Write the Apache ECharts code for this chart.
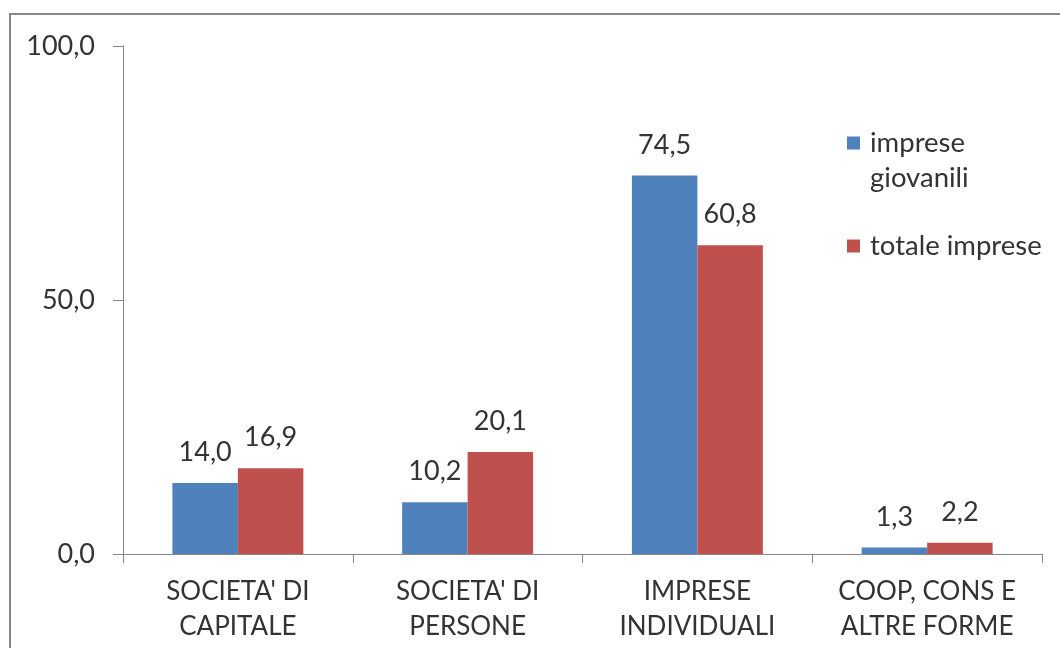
<!DOCTYPE html>
<html>
<head>
<meta charset="utf-8">
<script src="https://cdn.jsdelivr.net/npm/echarts@6/dist/echarts.min.js"></script>
<style>
  html, body { margin: 0; padding: 0; background: #ffffff; }
  #chart { width: 1060px; height: 648px; }
</style>
</head>
<body>
<div id="chart"></div>
<script>
const categories = ["SOCIETA' DI\nCAPITALE", "SOCIETA' DI\nPERSONE", "IMPRESE\nINDIVIDUALI", "COOP, CONS E\nALTRE FORME"];
const seriesNames = ["imprese giovanili", "totale imprese"];
const impreseGiovanili = [14.0, 10.2, 74.5, 1.3];
const totaleImprese = [16.9, 20.1, 60.8, 2.2];
const yTicks = [0, 50, 100];

const FONT = 'Lato';
const TXT = '#333333';
const AXIS = '#868686';
const fmt = v => Number(v).toFixed(1).replace('.', ',');

const chart = echarts.init(document.getElementById('chart'), null, { renderer: 'canvas' });
chart.setOption({
  animation: false,
  backgroundColor: '#ffffff',
  textStyle: { fontFamily: FONT, color: TXT },
  graphic: [{
    type: 'rect',
    shape: { x: 10, y: 14, width: 1100, height: 700 },
    style: { fill: 'none', stroke: AXIS, lineWidth: 2 },
    silent: true
  }],
  grid: { left: 123, right: 18, top: 46, bottom: 94, containLabel: false },
  legend: [{
    data: [seriesNames[0]],
    orient: 'vertical',
    left: 847,
    top: 143 - 52.5,
    padding: 0,
    itemWidth: 13,
    itemHeight: 13,
    icon: 'rect',
    formatter: () => ' \nimprese\ngiovanili',
    textStyle: { fontFamily: FONT, fontSize: 27.5, color: TXT, lineHeight: 35, padding: [0, 0, 0, 5] }
  }, {
    data: [seriesNames[1]],
    orient: 'vertical',
    left: 847,
    top: 246 - 17.5,
    padding: 0,
    itemWidth: 13,
    itemHeight: 13,
    icon: 'rect',
    textStyle: { fontFamily: FONT, fontSize: 27.5, color: TXT, lineHeight: 35, padding: [0, 0, 0, 5] }
  }],
  xAxis: {
    type: 'category',
    data: categories,
    axisLine: { show: true, lineStyle: { color: AXIS, width: 1 } },
    axisTick: { show: true, length: 9, lineStyle: { color: AXIS } },
    axisLabel: { fontFamily: FONT, fontSize: 26, color: TXT, lineHeight: 35, margin: 20, interval: 0 },
    splitLine: { show: false }
  },
  yAxis: {
    type: 'value',
    min: yTicks[0],
    max: yTicks[yTicks.length - 1],
    interval: yTicks[1] - yTicks[0],
    axisLine: { show: true, lineStyle: { color: AXIS, width: 1 } },
    axisTick: { show: true, length: 10, lineStyle: { color: AXIS } },
    axisLabel: { fontFamily: FONT, fontSize: 27, color: TXT, margin: 28, formatter: fmt },
    splitLine: { show: false }
  },
  series: [{
    name: seriesNames[0],
    type: 'bar',
    data: impreseGiovanili,
    barGap: '0%',
    barCategoryGap: '43%',
    itemStyle: { color: '#4F81BD' },
    label: { show: true, position: 'top', distance: 17, fontFamily: FONT, fontSize: 27, color: TXT, formatter: p => fmt(p.value) }
  }, {
    name: seriesNames[1],
    type: 'bar',
    data: totaleImprese,
    barGap: '0%',
    barCategoryGap: '43%',
    itemStyle: { color: '#C0504D' },
    label: { show: true, position: 'top', distance: 17, fontFamily: FONT, fontSize: 27, color: TXT, formatter: p => fmt(p.value) }
  }]
});
</script>
</body>
</html>
